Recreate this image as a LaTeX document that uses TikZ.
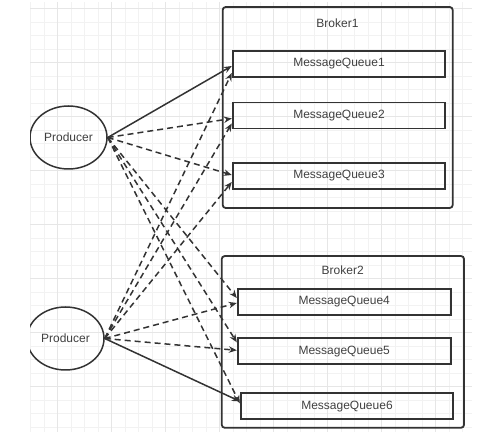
\documentclass[tikz,border=0pt]{standalone}
\usepackage{fontspec}
\setmainfont{Liberation Sans}
\usetikzlibrary{shapes.geometric,arrows.meta}
\definecolor{linegray}{HTML}{333333}
\definecolor{textgray}{HTML}{404040}
\definecolor{gridminor}{HTML}{F2F2F2}
\definecolor{gridmajor}{HTML}{E6E6E6}
\tikzset{>={Stealth[length=8pt,width=6.5pt]},
  producer/.style={ellipse,draw=linegray,line width=1.5pt,minimum width=77pt,
    minimum height=63pt,inner sep=0pt,text=textgray,font=\fontsize{12}{14}\selectfont},
  broker/.style={rectangle,draw=linegray,line width=1.8pt,rounded corners=3pt,inner sep=0pt},
  brokername/.style={text=textgray,font=\fontsize{12}{14}\selectfont},
  queue/.style={rectangle,draw=linegray,line width=1.8pt,inner sep=0pt,minimum height=26pt,
    text=textgray,font=\fontsize{12}{14}\selectfont},
  send/.style={->,draw=linegray,line width=1.5pt},
  sendalt/.style={send,dash pattern=on 6pt off 4pt}}

\begin{document}
\begin{tikzpicture}[x=1pt,y=-1pt]
    \useasboundingbox (0,0) rectangle (488,435);
    \clip (30,2) rectangle (472,432);
    % grid
    \foreach \i in {0,...,32}
      \draw[gridminor,line width=1pt] ({30.5+13.5*\i},2) -- ({30.5+13.5*\i},432);
    \foreach \j in {0,...,31}
      \draw[gridminor,line width=1pt] (30,{9+13.5*\j}) -- (472,{9+13.5*\j});
    \foreach \k in {0,...,7} {
      \draw[gridmajor,line width=1pt] ({57.5+54*\k},2) -- ({57.5+54*\k},432);
      \draw[gridmajor,line width=1pt] (30,{9+54*\k}) -- (472,{9+54*\k});
    }
    % brokers
    \node[broker,minimum width=230pt,minimum height=201pt] (b1) at (337.7,107.5) {};
    \node[brokername] (b1name) at (337.5,23.3) {Broker1};
    \node[broker,minimum width=242.3pt,minimum height=171.7pt] (b2) at (342.9,341.9) {};
    \node[brokername] (b2name) at (342.7,270) {Broker2};
    % queues
    \node[queue,minimum width=212.6pt] (mq1) at (339,64) {MessageQueue1};
    \node[queue,minimum width=212.6pt] (mq2) at (339,115.5) {MessageQueue2};
    \node[queue,minimum width=212.6pt] (mq3) at (339,176) {MessageQueue3};
    \node[queue,minimum width=213pt] (mq4) at (344.2,302) {MessageQueue4};
    \node[queue,minimum width=213pt] (mq5) at (344.2,351.3) {MessageQueue5};
    \node[queue,minimum width=212.6pt] (mq6) at (347,406.3) {MessageQueue6};
    % producers
    \node[producer] (p1) at (68.5,137.5) {Producer};
    \node[producer] (p2) at (65.5,338.5) {Producer};
    % sends
    \draw[send] (p1.east) -- ([yshift=-2pt]mq1.west);
    \foreach \q/\s in {2/-3,3/1,4/4,5/9,6/3}
      \draw[sendalt] (p1.east) -- ([yshift=\s pt]mq\q.west);
    \foreach \q/\s in {1/-9,2/-8,3/-6,4/-1,5/1}
      \draw[sendalt] (p2.east) -- ([yshift=\s pt]mq\q.west);
    \draw[send] (p2.east) -- ([yshift=5pt]mq6.west);
\end{tikzpicture}
\end{document}
